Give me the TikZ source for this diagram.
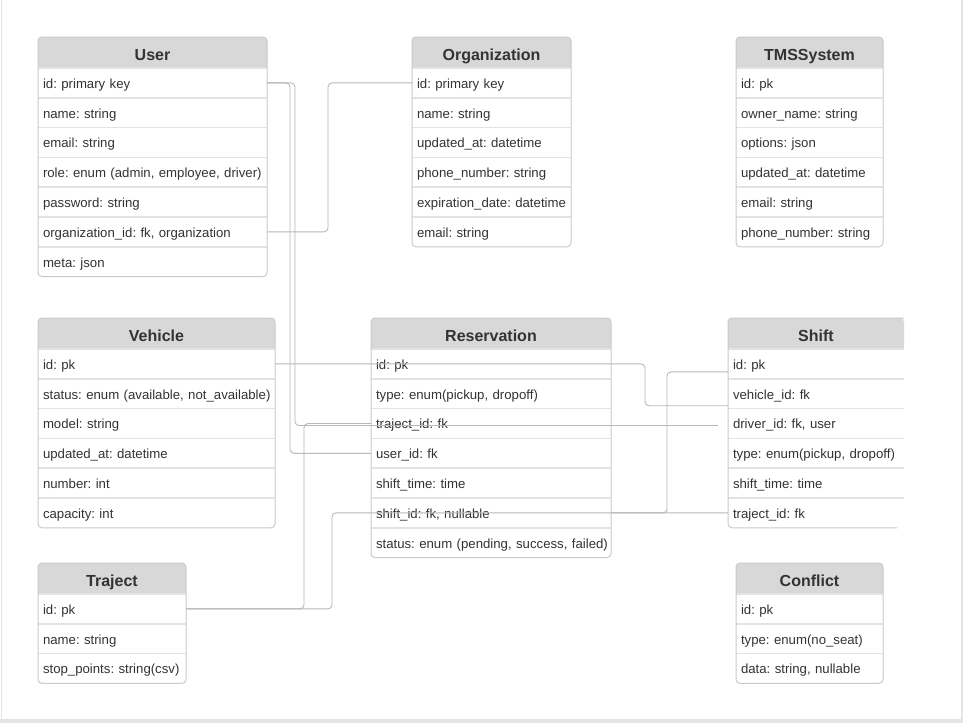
\documentclass[tikz,border=0pt]{standalone}
\usepackage{fontspec}
\setmainfont{Liberation Sans}
\usetikzlibrary{positioning, calc, backgrounds}
\definecolor{hdrgray}{HTML}{D8D8D8}
\definecolor{boxgray}{HTML}{CACACA}
\definecolor{sepgray}{HTML}{E3E3E3}
\definecolor{linkgray}{HTML}{B8B8B8}
\definecolor{txtgray}{HTML}{333333}
\definecolor{framegray}{HTML}{E4E4E4}
\frenchspacing

\begin{document}
\begin{tikzpicture}[x=1pt, y=-1pt,
    tblhead/.style={minimum height=31pt, inner sep=0pt, outer sep=0pt, text height=16pt, text depth=0.5pt, anchor=north west, text=txtgray, font=\fontsize{16}{19}\selectfont\bfseries},
    field/.style={minimum height=29.8pt, inner xsep=5pt, inner ysep=0pt, outer sep=0pt, text height=12.5pt, text depth=1.7pt, text width=#1, align=left, text=txtgray, font=\fontsize{13.2}{16}\selectfont,
        execute at begin node={\leavevmode\hbox\bgroup}, execute at end node={\egroup}},
    tbl/.style={draw=boxgray, line width=1pt, rounded corners=4pt},
    sep/.style={draw=sepgray, line width=1.6pt},
    link/.style={draw=linkgray, line width=0.9pt, rounded corners=4pt}]
        \useasboundingbox (0,0) rectangle (963,723);
        \begin{scope}[on background layer]
            \fill[white] (0,0) rectangle (963,723);
            \fill[framegray] (0,719) rectangle (963,723);
            \fill[framegray] (961,0) rectangle (963,723);
            \draw[framegray, line width=1pt] (1,0) -- (1,719);
        \end{scope}

        % User
        \node[tblhead, minimum width=229pt] (user-head) at (38,37) {User};
        \node[field=219pt, below=0pt of user-head] (user-id) {id: primary key};
        \node[field=219pt, below=0pt of user-id] (user-name) {name: string};
        \node[field=219pt, below=0pt of user-name] (user-email) {email: string};
        \node[field=219pt, below=0pt of user-email] (user-role) {role: enum (admin, employee, driver)};
        \node[field=219pt, below=0pt of user-role] (user-password) {password: string};
        \node[field=219pt, below=0pt of user-password] (user-orgid) {organization\_id: fk, organization};
        \node[field=219pt, below=0pt of user-orgid] (user-meta) {meta: json};

        % Organization
        \node[tblhead, minimum width=159pt] (org-head) at (412,37) {Organization};
        \node[field=149pt, below=0pt of org-head] (org-id) {id: primary key};
        \node[field=149pt, below=0pt of org-id] (org-name) {name: string};
        \node[field=149pt, below=0pt of org-name] (org-updated) {updated\_at: datetime};
        \node[field=149pt, below=0pt of org-updated] (org-phone) {phone\_number: string};
        \node[field=149pt, below=0pt of org-phone] (org-expiration) {expiration\_date: datetime};
        \node[field=149pt, below=0pt of org-expiration] (org-email) {email: string};

        % TMSSystem
        \node[tblhead, minimum width=147pt] (tms-head) at (736,37) {TMSSystem};
        \node[field=137pt, below=0pt of tms-head] (tms-id) {id: pk};
        \node[field=137pt, below=0pt of tms-id] (tms-owner) {owner\_name: string};
        \node[field=137pt, below=0pt of tms-owner] (tms-options) {options: json};
        \node[field=137pt, below=0pt of tms-options] (tms-updated) {updated\_at: datetime};
        \node[field=137pt, below=0pt of tms-updated] (tms-email) {email: string};
        \node[field=137pt, below=0pt of tms-email] (tms-phone) {phone\_number: string};

        % Vehicle
        \node[tblhead, minimum width=237pt] (vehicle-head) at (38,318) {Vehicle};
        \node[field=227pt, below=0pt of vehicle-head] (vehicle-id) {id: pk};
        \node[field=227pt, below=0pt of vehicle-id] (vehicle-status) {status: enum (available, not\_available)};
        \node[field=227pt, below=0pt of vehicle-status] (vehicle-model) {model: string};
        \node[field=227pt, below=0pt of vehicle-model] (vehicle-updated) {updated\_at: datetime};
        \node[field=227pt, below=0pt of vehicle-updated] (vehicle-number) {number: int};
        \node[field=227pt, below=0pt of vehicle-number] (vehicle-capacity) {capacity: int};

        % Reservation
        \node[tblhead, minimum width=240pt] (res-head) at (371,318) {Reservation};
        \node[field=230pt, below=0pt of res-head] (res-id) {id: pk};
        \node[field=230pt, below=0pt of res-id] (res-type) {type: enum(pickup, dropoff)};
        \node[field=230pt, below=0pt of res-type] (res-traject) {traject\_id: fk};
        \node[field=230pt, below=0pt of res-traject] (res-user) {user\_id: fk};
        \node[field=230pt, below=0pt of res-user] (res-shifttime) {shift\_time: time};
        \node[field=230pt, below=0pt of res-shifttime] (res-shift) {shift\_id: fk, nullable};
        \node[field=230pt, below=0pt of res-shift] (res-status) {status: enum (pending, success, failed)};

        % Shift
        \node[tblhead, minimum width=176pt] (shift-head) at (728,318) {Shift};
        \node[field=166pt, below=0pt of shift-head] (shift-id) {id: pk};
        \node[field=166pt, below=0pt of shift-id] (shift-vehicle) {vehicle\_id: fk};
        \node[field=166pt, below=0pt of shift-vehicle] (shift-driver) {driver\_id: fk, user};
        \node[field=166pt, below=0pt of shift-driver] (shift-type) {type: enum(pickup, dropoff)};
        \node[field=166pt, below=0pt of shift-type] (shift-time) {shift\_time: time};
        \node[field=166pt, below=0pt of shift-time] (shift-traject) {traject\_id: fk};

        % Traject
        \node[tblhead, minimum width=148pt] (traject-head) at (38,563) {Traject};
        \node[field=138pt, below=0pt of traject-head] (traject-id) {id: pk};
        \node[field=138pt, below=0pt of traject-id] (traject-name) {name: string};
        \node[field=138pt, below=0pt of traject-name] (traject-stops) {stop\_points: string(csv)};

        % Conflict
        \node[tblhead, minimum width=147pt] (conflict-head) at (736,563) {Conflict};
        \node[field=137pt, below=0pt of conflict-head] (conflict-id) {id: pk};
        \node[field=137pt, below=0pt of conflict-id] (conflict-type) {type: enum(no\_seat)};
        \node[field=137pt, below=0pt of conflict-type] (conflict-data) {data: string, nullable};

        \begin{scope}[on background layer]
            \foreach \t in {user,org,tms,vehicle,res,shift,traject,conflict} {
                \fill[hdrgray, rounded corners=4pt] (\t-head.north west) rectangle (\t-head.south east);
                \fill[hdrgray] (\t-head.west) rectangle (\t-head.south east);
            }
        \end{scope}

        % row lines
        \foreach \r in {head,id,name,email,role,password,orgid} \draw[sep] (user-\r.south west) -- (user-\r.south east);
        \foreach \r in {head,id,name,updated,phone,expiration} \draw[sep] (org-\r.south west) -- (org-\r.south east);
        \foreach \r in {head,id,owner,options,updated,email} \draw[sep] (tms-\r.south west) -- (tms-\r.south east);
        \foreach \r in {head,id,status,model,updated,number} \draw[sep] (vehicle-\r.south west) -- (vehicle-\r.south east);
        \foreach \r in {head,id,type,traject,user,shifttime,shift} \draw[sep] (res-\r.south west) -- (res-\r.south east);
        \foreach \r in {head,id,vehicle,driver,type,time} \draw[sep] (shift-\r.south west) -- (shift-\r.south east);
        \foreach \r in {head,id,name} \draw[sep] (traject-\r.south west) -- (traject-\r.south east);
        \foreach \r in {head,id,type} \draw[sep] (conflict-\r.south west) -- (conflict-\r.south east);

        % outlines
        \draw[tbl] (user-head.north west) rectangle (user-meta.south east);
        \draw[tbl] (org-head.north west) rectangle (org-email.south east);
        \draw[tbl] (tms-head.north west) rectangle (tms-phone.south east);
        \draw[tbl] (vehicle-head.north west) rectangle (vehicle-capacity.south east);
        \draw[tbl] (res-head.north west) rectangle (res-status.south east);
        \draw[tbl] ($(shift-traject.south east)+(-7,0)$) -- (shift-traject.south west) -- (shift-head.north west) -- (shift-head.north east);
        \draw[tbl] (traject-head.north west) rectangle (traject-stops.south east);
        \draw[tbl] (conflict-head.north west) rectangle (conflict-data.south east);

        % links
        \coordinate (drv-end) at ($(shift-driver.west)+(-10,2)$);
        \draw[link] (user-id.east) -- ++(23,0) |- (res-user.west);
        \draw[link] (user-id.east) -- ++(28,0) |- (drv-end);
        \draw[link] (user-orgid.east) -- ++(61,0) |- (org-id.west);
        \draw[link] (vehicle-id.east) -- ++(370,0) |- ($(shift-vehicle.west)+(0,12)$);
        \draw[link] (res-traject.west) -- ++(-67,0) |- (traject-id.east);
        \draw[link] (traject-id.east) -- ++(146,0) |- (shift-traject.west);
        \draw[link] (res-shift.east) -- ++(56,0) |- ($(shift-id.west)+(0,8)$);
\end{tikzpicture}
\end{document}
